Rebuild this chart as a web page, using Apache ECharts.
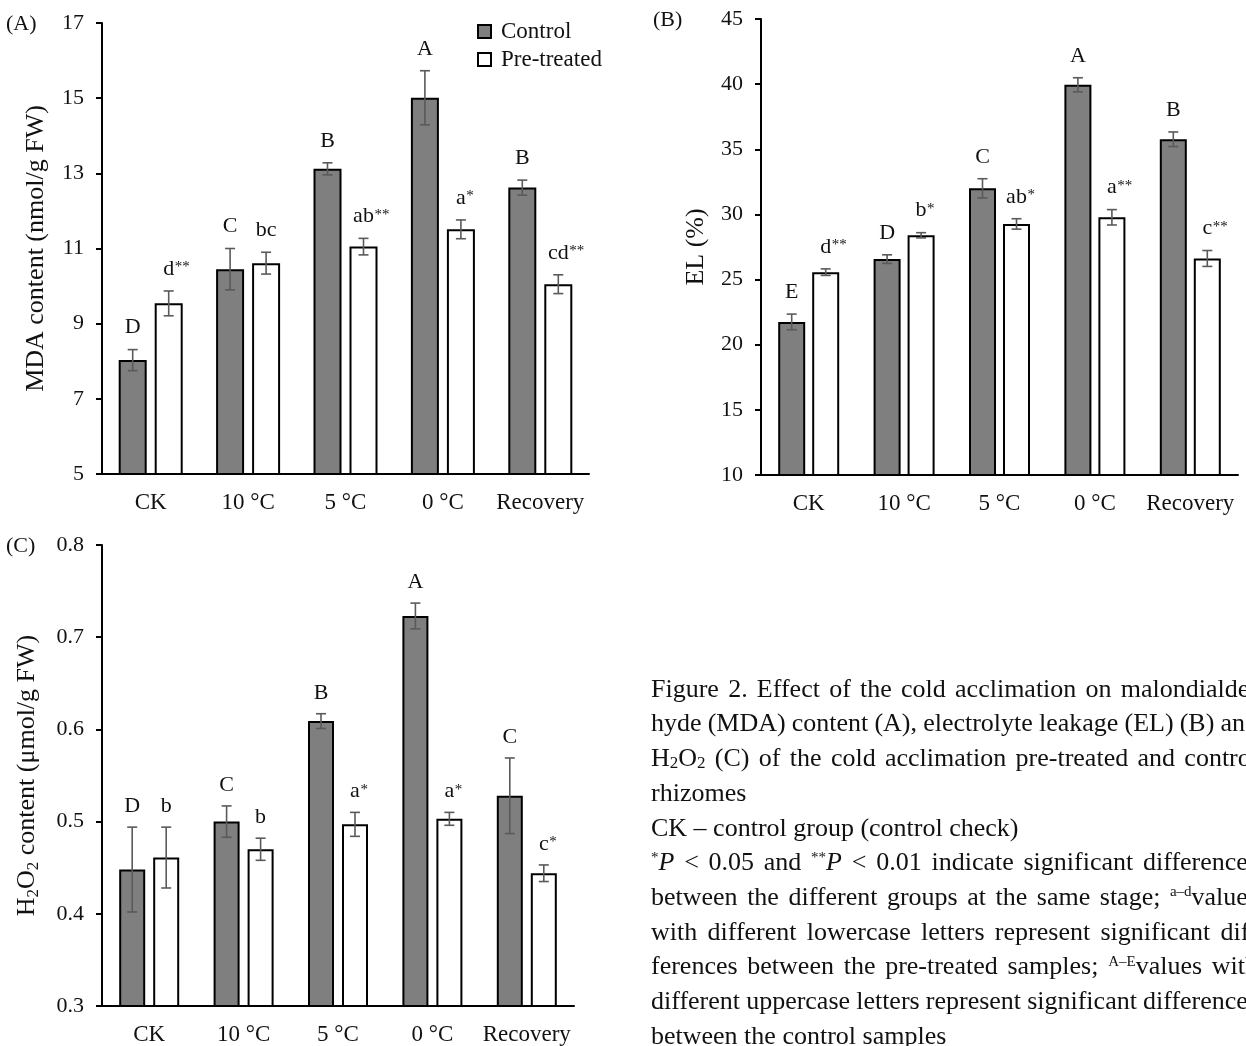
<!DOCTYPE html>
<html>
<head>
<meta charset="utf-8">
<script src="https://cdn.jsdelivr.net/npm/echarts@6/dist/echarts.min.js"></script>
<style>
  html, body { margin: 0; padding: 0; background: #fff; }
  #chart { width: 1246px; height: 1046px; }
</style>
</head>
<body>
<div id="chart"></div>
<script>
// Sampling stages shared by all three panels
const stages = ['CK', '10 °C', '5 °C', '0 °C', 'Recovery'];

// (A) MDA content, nmol/g FW
const mdaControl = [8.03, 10.45, 13.12, 15.01, 12.62];
const mdaControlErr = [0.28, 0.55, 0.16, 0.72, 0.20];
const mdaPre = [9.54, 10.61, 11.05, 11.51, 10.05];
const mdaPreErr = [0.33, 0.29, 0.22, 0.25, 0.25];
const mdaControlLetters = ['D', 'C', 'B', 'A', 'B'];
const mdaPreLetters = ['d**', 'bc', 'ab**', 'a*', 'cd**'];

// (B) Electrolyte leakage, %
const elControl = [21.75, 26.57, 32.0, 39.95, 35.77];
const elControlErr = [0.6, 0.33, 0.74, 0.54, 0.56];
const elPre = [25.57, 28.4, 29.27, 29.78, 26.62];
const elPreErr = [0.25, 0.2, 0.4, 0.59, 0.61];
const elControlLetters = ['E', 'D', 'C', 'A', 'B'];
const elPreLetters = ['d**', 'b*', 'ab*', 'a**', 'c**'];

// (C) H2O2 content, µmol/g FW
const h2o2Control = [0.448, 0.500, 0.609, 0.723, 0.528];
const h2o2ControlErr = [0.046, 0.017, 0.008, 0.014, 0.041];
const h2o2Pre = [0.461, 0.470, 0.497, 0.503, 0.444];
const h2o2PreErr = [0.033, 0.012, 0.013, 0.007, 0.009];
const h2o2ControlLetters = ['D', 'C', 'B', 'A', 'C'];
const h2o2PreLetters = ['b', 'b', 'a*', 'a*', 'c*'];

// Axis ranges and tick steps
const mdaAxis = { min: 5, max: 17, interval: 2 };
const elAxis = { min: 10, max: 45, interval: 5 };
const h2o2Axis = { min: 0.3, max: 0.8, interval: 0.1 };

const SERIF = "'Liberation Serif', 'Times New Roman', serif";
const DARK = '#7f7f7f';
const ERR_COLOR = '#5a5a5a';

const measureCtx = document.createElement('canvas').getContext('2d');
function textWidth(s, font) {
  measureCtx.font = font;
  return measureCtx.measureText(s).width;
}

// Error bar with its significance letter; side = -1 for control, +1 for pre-treated
function errorSeries(xIdx, yIdx, values, errs, letters, side, offset, labelGap) {
  const letterFont = '22px ' + SERIF;
  const starFont = '15px ' + SERIF;
  return {
    type: 'custom',
    name: 'err',
    xAxisIndex: xIdx,
    yAxisIndex: yIdx,
    z: 5,
    silent: true,
    data: values.map((v, i) => [i, v, errs[i]]),
    renderItem(params, api) {
      const i = api.value(0), v = api.value(1), e = api.value(2);
      const top = api.coord([i, v + e]);
      const bot = api.coord([i, v - e]);
      const x = top[0] + side * offset;
      const cap = 5;
      const st = { stroke: ERR_COLOR, lineWidth: 1.6 };
      const lab = letters[params.dataIndex];
      const m = lab.match(/^([^*]*)(\**)$/);
      const base = m[1], stars = m[2];
      const yb = top[1] - labelGap;
      const children = [
        { type: 'line', shape: { x1: x, y1: top[1], x2: x, y2: bot[1] }, style: st },
        { type: 'line', shape: { x1: x - cap, y1: top[1], x2: x + cap, y2: top[1] }, style: st },
        { type: 'line', shape: { x1: x - cap, y1: bot[1], x2: x + cap, y2: bot[1] }, style: st },
        { type: 'text', x: x, y: yb,
          style: { text: base, font: letterFont, fill: '#111', align: 'center', verticalAlign: 'bottom' } }
      ];
      if (stars) {
        const w = textWidth(base, letterFont);
        children.push({ type: 'text', x: x + w / 2 + 0.5, y: yb - 20,
          style: { text: stars, font: starFont, fill: '#111', align: 'left', verticalAlign: 'top' } });
      }
      return { type: 'group', children };
    }
  };
}

function barPair(xIdx, yIdx, control, pre, width, gapPx) {
  const common = { type: 'bar', xAxisIndex: xIdx, yAxisIndex: yIdx, barWidth: width,
    barGap: (gapPx / width * 100) + '%', silent: true };
  return [
    Object.assign({ name: 'Control', data: control,
      itemStyle: { color: DARK, borderColor: '#000', borderWidth: 2 } }, common),
    Object.assign({ name: 'Pre-treated', data: pre,
      itemStyle: { color: '#fff', borderColor: '#000', borderWidth: 2 } }, common)
  ];
}

function xAxis(gridIndex) {
  return {
    type: 'category', gridIndex, data: stages,
    axisLine: { lineStyle: { color: '#000', width: 2 } },
    axisTick: { show: false },
    axisLabel: { interval: 0, color: '#111', fontFamily: SERIF, fontSize: 23, margin: 17 }
  };
}

function yAxis(gridIndex, range, name, nameGap, digits, rich) {
  return {
    type: 'value', gridIndex,
    min: range.min, max: range.max, interval: range.interval,
    axisLine: { show: true, lineStyle: { color: '#000', width: 2 } },
    axisTick: { show: true, length: 6, lineStyle: { color: '#000', width: 2 } },
    splitLine: { show: false },
    axisLabel: { color: '#111', fontFamily: SERIF, fontSize: 22, margin: 18,
      formatter: v => v.toFixed(digits) },
    name, nameLocation: 'middle', nameGap,
    nameTextStyle: Object.assign({ color: '#111', fontFamily: SERIF, fontSize: 26 }, rich || {})
  };
}

// Caption: justified paragraph lines; the last line of each paragraph stays ragged
const CAP_LEFT = 651, CAP_RIGHT = 1258, CAP_TOP = 690, CAP_STEP = 34.67;
const capFonts = {
  n: '26px ' + SERIF,
  i: 'italic 26px ' + SERIF,
  sup: '15px ' + SERIF,
  sub: '17px ' + SERIF
};
const capRich = {
  i: { fontFamily: SERIF, fontSize: 26, fontStyle: 'italic', fill: '#111' },
  sup: { fontFamily: SERIF, fontSize: 15, fill: '#111', verticalAlign: 'top', lineHeight: 26 },
  sub: { fontFamily: SERIF, fontSize: 17, fill: '#111', verticalAlign: 'bottom', lineHeight: 22 }
};
const captionLines = [
  ['Figure 2. Effect of the cold acclimation on malondialde-', true],
  ['hyde (MDA) content (A), electrolyte leakage (EL) (B) and', true],
  ['H{sub|2}O{sub|2} (C) of the cold acclimation pre-treated and control', true],
  ['rhizomes', false],
  ['CK – control group (control check)', false],
  ['{sup|*}{i|P} < 0.05 and {sup|**}{i|P} < 0.01 indicate significant differences', true],
  ['between the different groups at the same stage; {sup|a–d}values', true],
  ['with different lowercase letters represent significant dif-', true],
  ['ferences between the pre-treated samples; {sup|A–E}values with', true],
  ['different uppercase letters represent significant differences', true],
  ['between the control samples', false]
];

function richWidth(word) {
  let w = 0;
  const re = /\{(\w+)\|([^}]*)\}|([^{]+)/g;
  let m;
  while ((m = re.exec(word))) {
    if (m[1]) w += textWidth(m[2], capFonts[m[1]]);
    else w += textWidth(m[3], capFonts.n);
  }
  return w;
}

function captionElements() {
  const out = [];
  captionLines.forEach(([line, justify], k) => {
    const y = CAP_TOP + k * CAP_STEP;
    const words = line.split(' ');
    const widths = words.map(richWidth);
    const total = widths.reduce((a, b) => a + b, 0);
    const space = textWidth(' ', capFonts.n);
    const gap = justify && words.length > 1
      ? (CAP_RIGHT - CAP_LEFT - total) / (words.length - 1) : space;
    let x = CAP_LEFT;
    words.forEach((w, j) => {
      out.push({ type: 'text', x, y,
        style: { text: w, font: capFonts.n, fill: '#111', verticalAlign: 'middle', rich: capRich } });
      x += widths[j] + gap;
    });
  });
  return out;
}

const graphics = [
  { type: 'text', x: 6, y: 24, style: { text: '(A)', font: '22px ' + SERIF, fill: '#111', verticalAlign: 'middle' } },
  { type: 'text', x: 653, y: 20, style: { text: '(B)', font: '22px ' + SERIF, fill: '#111', verticalAlign: 'middle' } },
  { type: 'text', x: 6, y: 546, style: { text: '(C)', font: '22px ' + SERIF, fill: '#111', verticalAlign: 'middle' } }
].concat(captionElements());

const option = {
  animation: false,
  backgroundColor: '#fff',
  textStyle: { fontFamily: SERIF },
  legend: {
    data: ['Control', 'Pre-treated'],
    orient: 'vertical', left: 472, top: 15,
    itemWidth: 13, itemHeight: 13, itemGap: 5, icon: 'rect',
    textStyle: { fontFamily: SERIF, fontSize: 23, color: '#111', padding: [0, 0, 0, 5] }
  },
  grid: [
    { left: 102, top: 23, width: 487, height: 451 },
    { left: 761, top: 19, width: 477, height: 456 },
    { left: 102, top: 545, width: 472, height: 461 }
  ],
  xAxis: [xAxis(0), xAxis(1), xAxis(2)],
  yAxis: [
    yAxis(0, mdaAxis, 'MDA content (nmol/g FW)', 53, 0),
    yAxis(1, elAxis, 'EL (%)', 52, 0),
    yAxis(2, h2o2Axis, '{n|H}{s|2}{n|O}{s|2}{n| content (μmol/g FW)}', 60, 1, {
      rich: {
        n: { fontFamily: SERIF, fontSize: 26, color: '#111', lineHeight: 30 },
        s: { fontFamily: SERIF, fontSize: 17, color: '#111', verticalAlign: 'bottom', lineHeight: 22 }
      }
    })
  ],
  series: [].concat(
    barPair(0, 0, mdaControl, mdaPre, 28, 8),
    [errorSeries(0, 0, mdaControl, mdaControlErr, mdaControlLetters, -1, 18, 11),
     errorSeries(0, 0, mdaPre, mdaPreErr, mdaPreLetters, 1, 18, 11)],
    barPair(1, 1, elControl, elPre, 27, 7),
    [errorSeries(1, 1, elControl, elControlErr, elControlLetters, -1, 17, 11),
     errorSeries(1, 1, elPre, elPreErr, elPreLetters, 1, 17, 11)],
    barPair(2, 2, h2o2Control, h2o2Pre, 26, 8),
    [errorSeries(2, 2, h2o2Control, h2o2ControlErr, h2o2ControlLetters, -1, 17, 10),
     errorSeries(2, 2, h2o2Pre, h2o2PreErr, h2o2PreLetters, 1, 17, 10)]
  ),
  graphic: graphics
};

echarts.init(document.getElementById('chart'), null, { renderer: 'canvas' }).setOption(option);
</script>
</body>
</html>
